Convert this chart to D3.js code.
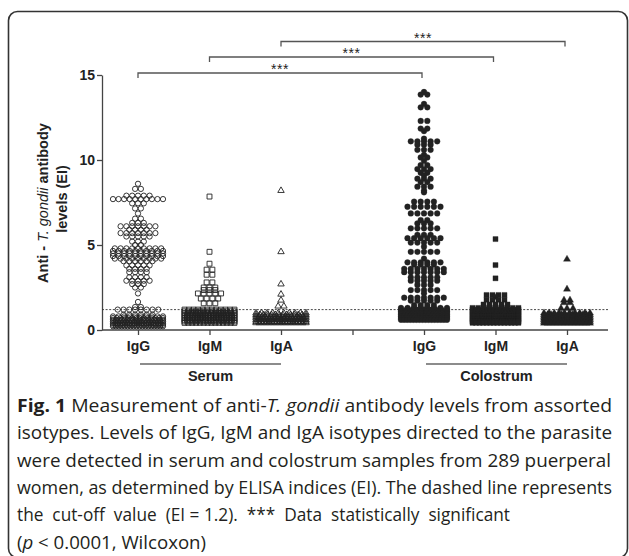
<!DOCTYPE html>
<html><head><meta charset="utf-8">
<script src="https://cdn.jsdelivr.net/npm/d3@7"></script>
<style>body{margin:0;background:#fff} svg{display:block}</style>
</head><body><svg id="c" width="629" height="556"></svg>
<script>
// ---- data: [EI value, number of points at that level] ----
const categories = ["IgG", "IgM", "IgA", "", "IgG", "IgM", "IgA"];
const sampleGroups = ["Serum", "Colostrum"];
const yTicks = [0, 5, 10, 15];
const cutoff = 1.2;

const serumIgG = [[8.6,1],[8.3,2],[7.9,5],[7.7,10],[7.45,3],[7.15,2],[6.85,1],[6.55,2],[6.3,3],[6.1,7],[5.9,4],[5.7,7],[5.5,5],[5.2,3],[5.0,2],[4.8,9],[4.65,10],[4.5,10],[4.35,10],[4.2,9],[4.05,6],[3.8,5],[3.6,4],[3.4,4],[3.1,4],[2.9,5],[2.7,3],[2.5,2],[2.15,1],[1.65,1],[1.35,2],[1.2,8],[0.9,6],[0.8,10],[0.7,14],[0.6,18],[0.5,20],[0.4,22],[0.3,22],[0.22,18]];
const serumIgM = [[7.85,1],[4.6,1],[3.9,1],[3.55,2],[3.25,2],[2.8,2],[2.5,3],[2.35,3],[2.15,5],[1.85,4],[1.57,3],[1.2,12],[1.1,14],[1.0,16],[0.9,18],[0.8,20],[0.7,20],[0.6,20],[0.5,18],[0.42,14]];
const serumIgA = [[8.2,1],[4.6,1],[2.7,1],[2.1,1],[1.75,1],[1.4,2],[1.0,10],[0.9,14],[0.8,18],[0.7,20],[0.6,20],[0.5,20],[0.42,16]];
const colostrumIgG = [[14.0,1],[13.85,2],[13.3,1],[13.1,2],[12.3,2],[11.85,2],[11.7,1],[11.25,1],[11.1,5],[10.9,3],[10.6,3],[10.3,1],[10.15,2],[9.95,1],[9.7,2],[9.47,3],[9.25,2],[9.1,1],[8.9,3],[8.7,2],[8.43,3],[8.2,1],[8.1,1],[7.55,4],[7.25,6],[6.86,5],[6.47,2],[6.27,3],[5.98,5],[5.6,3],[5.4,6],[5.14,5],[4.9,1],[4.6,5],[4.2,1],[3.98,6],[3.85,4],[3.6,7],[3.4,7],[3.1,5],[2.9,5],[2.65,3],[2.35,5],[2.16,1],[1.9,7],[1.73,5],[1.47,4],[1.3,8],[1.2,9],[1.1,10],[1.0,12],[0.9,14],[0.8,16],[0.7,18],[0.6,16]];
const colostrumIgM = [[5.35,1],[3.82,1],[3.04,1],[2.06,4],[1.95,1],[1.78,4],[1.5,5],[1.3,9],[1.2,12],[1.1,14],[1.0,16],[0.9,18],[0.8,20],[0.7,20],[0.6,20],[0.5,18],[0.42,14]];
const colostrumIgA = [[4.16,1],[2.4,1],[1.76,2],[1.6,2],[1.27,3],[1.0,10],[0.9,14],[0.8,16],[0.7,18],[0.6,18],[0.5,18],[0.4,14]];

// significance brackets: [from slot, to slot]
const brackets = [[2, 6], [1, 5], [0, 4]];
const bracketLabels = ["***", "***", "***"];

const captionLines = [
  [["b","Fig. 1"],["n"," Measurement of anti-"],["i","T. gondii"],["n"," antibody levels from assorted"]],
  [["n","isotypes. Levels of IgG, IgM and IgA isotypes directed to the parasite"]],
  [["n","were detected in serum and colostrum samples from 289 puerperal"]],
  [["n","women, as determined by ELISA indices (EI). The dashed line represents"]],
  [["n","the  cut-off  value  (EI = 1.2).  ***  Data  statistically  significant"]],
  [["n","("],["i","p"],["n"," < 0.0001, Wilcoxon)"]]
];
const captionWidths = [595, 595, 594, 595, 493, 189];

// ---- drawing ----
const svg = d3.select("#c");
const AX = "Arial, 'Liberation Sans', Helvetica, sans-serif";
const ink = "#222";

svg.append("rect").attr("x", 8.5).attr("y", 11.5).attr("width", 619).attr("height", 546)
  .attr("rx", 9).attr("fill", "none").attr("stroke", "#333").attr("stroke-width", 1.6);

const x = d3.scalePoint().domain(d3.range(categories.length)).range([138, 567]);
const y = d3.scaleLinear().domain([0, 15]).range([330, 75]);

// y axis
const gy = svg.append("g").attr("transform", "translate(102,0)")
  .call(d3.axisLeft(y).tickValues(yTicks).tickSize(5).tickSizeOuter(0).tickPadding(2));
gy.attr("font-family", AX);
gy.select(".domain").attr("stroke", "#444").attr("stroke-width", 1.3);
gy.selectAll(".tick line").attr("stroke", "#444").attr("stroke-width", 1.3);
gy.selectAll(".tick text").attr("font-family", AX).attr("font-size", 14).attr("font-weight", "bold").attr("fill", ink);

// x axis
const gx = svg.append("g").attr("transform", "translate(0,330)")
  .call(d3.axisBottom(x).tickSize(5).tickPadding(6).tickFormat(i => categories[i]));
gx.attr("font-family", AX);
gx.select(".domain").remove();
gx.selectAll(".tick line").attr("stroke", "#444").attr("stroke-width", 1.3);
gx.selectAll(".tick text").attr("font-family", AX).attr("font-size", 14).attr("font-weight", "bold").attr("fill", ink);
svg.append("line").attr("x1", 102).attr("x2", 608).attr("y1", 330).attr("y2", 330)
  .attr("stroke", "#444").attr("stroke-width", 1.3);

// cutoff dashed line
svg.append("line").attr("x1", 102).attr("x2", 608).attr("y1", y(cutoff)).attr("y2", y(cutoff))
  .attr("stroke", "#333").attr("stroke-width", 0.9).attr("stroke-dasharray", "2,1.6");

// y axis title
const yt = svg.append("text").attr("transform", "translate(43,203) rotate(-90)")
  .attr("text-anchor", "middle").attr("dy", "0.35em")
  .attr("font-family", AX).attr("font-size", 14.5).attr("font-weight", "bold").attr("fill", ink);
yt.append("tspan").text("Anti - ");
yt.append("tspan").attr("font-style", "italic").attr("font-weight", "normal").text("T. gondii");
yt.append("tspan").text(" antibody");
svg.append("text").attr("transform", "translate(62,199) rotate(-90)")
  .attr("text-anchor", "middle").attr("dy", "0.35em")
  .attr("font-family", AX).attr("font-size", 14.5).attr("font-weight", "bold").attr("fill", ink)
  .text("levels (EI)");

// group underlines + labels
[[0, 2], [4, 6]].forEach((r, i) => {
  const x1 = x(r[0]) + 2, x2 = x(r[1]);
  svg.append("line").attr("x1", x1).attr("x2", x2).attr("y1", 364).attr("y2", 364)
    .attr("stroke", "#666").attr("stroke-width", 1.6);
  svg.append("text").attr("x", (x1 + x2) / 2).attr("y", 380.5).attr("text-anchor", "middle")
    .attr("font-family", AX).attr("font-size", 14.5).attr("font-weight", "bold").attr("fill", ink)
    .text(sampleGroups[i]);
});

// brackets
const bracketY = [41.5, 57, 73];
brackets.forEach((b, i) => {
  const x1 = x(b[0]), x2 = x(b[1]) - 2, by = bracketY[i];
  svg.append("path").attr("d", `M${x1},${by + 5}V${by}H${x2}V${by + 5}`)
    .attr("fill", "none").attr("stroke", "#555").attr("stroke-width", 1.3);
  svg.append("text").attr("x", (x1 + x2) / 2).attr("y", by + 1).attr("text-anchor", "middle")
    .attr("font-family", AX).attr("font-size", 14).attr("letter-spacing", 0.5).attr("fill", "#222")
    .text(bracketLabels[i]);
});

// scatter groups
const groups = [
  { data: serumIgG, slot: 0, type: d3.symbolCircle, size: 22, filled: false, dx: 5.8, maxW: 50 },
  { data: serumIgM, slot: 1, type: d3.symbolSquare, size: 24, filled: false, dx: 5.8, maxW: 50 },
  { data: serumIgA, slot: 2, type: d3.symbolTriangle, size: 18, filled: false, dx: 5.8, maxW: 50 },
  { data: colostrumIgG, slot: 4, type: d3.symbolCircle, size: 26, filled: true, dx: 6.6, maxW: 46 },
  { data: colostrumIgM, slot: 5, type: d3.symbolSquare, size: 26, filled: true, dx: 6, maxW: 46 },
  { data: colostrumIgA, slot: 6, type: d3.symbolTriangle, size: 22, filled: true, dx: 6, maxW: 46 }
];
groups.forEach(g => {
  const pts = [];
  g.data.forEach(([v, n]) => {
    const sp = n > 1 ? Math.min(g.dx, g.maxW / (n - 1)) : 0;
    for (let i = 0; i < n; i++) pts.push({ px: x(g.slot) + (i - (n - 1) / 2) * sp, py: y(v) });
  });
  const sym = d3.symbol().type(g.type).size(g.size);
  svg.append("g").selectAll("path").data(pts).join("path")
    .attr("transform", d => `translate(${d.px},${d.py})`)
    .attr("d", sym)
    .attr("fill", g.filled ? ink : "none")
    .attr("stroke", ink).attr("stroke-width", g.filled ? 0.3 : 0.9);
});

// caption
captionLines.forEach((parts, i) => {
  const t = svg.append("text").attr("x", 17).attr("y", 412 + i * 27.3)
    .attr("font-family", "'Open Sans', 'Noto Sans', sans-serif").attr("font-size", 18)
    .attr("fill", "#231f20").attr("xml:space", "preserve").style("white-space", "pre")
    .attr("textLength", captionWidths[i]).attr("lengthAdjust", "spacingAndGlyphs");
  parts.forEach(([k, s]) => {
    const ts = t.append("tspan").text(s);
    if (k === "b") ts.attr("font-weight", "bold");
    if (k === "i") ts.attr("font-style", "italic");
  });
});
</script></body></html>
